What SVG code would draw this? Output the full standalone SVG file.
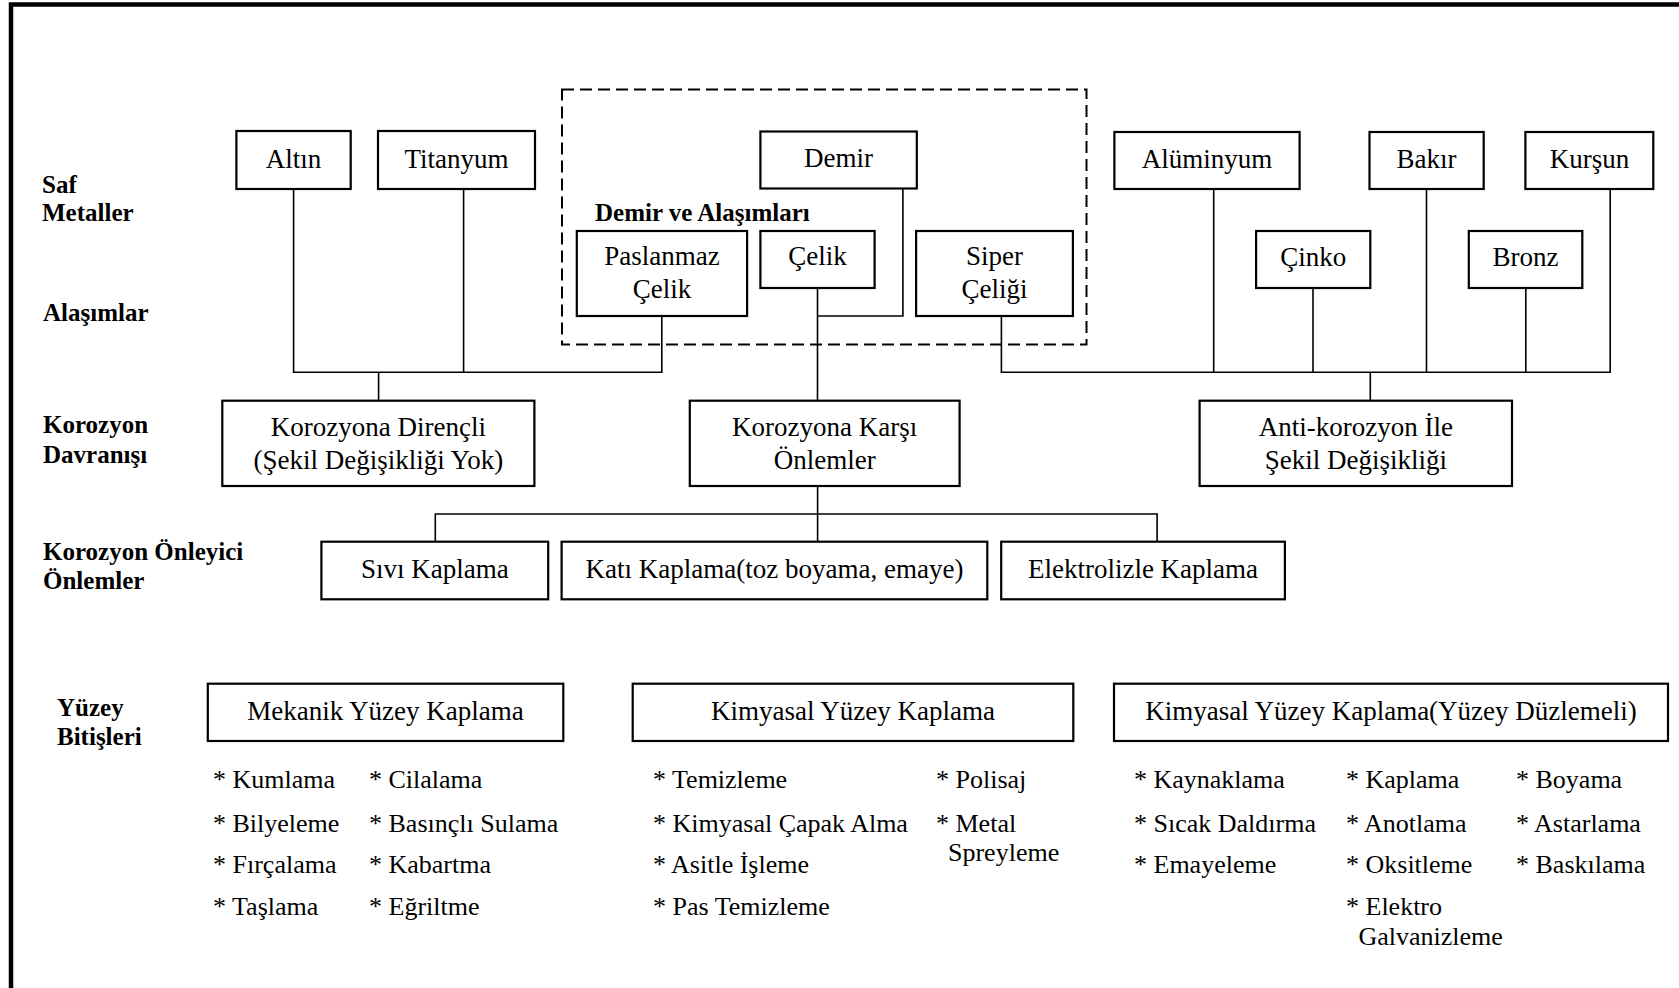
<svg xmlns="http://www.w3.org/2000/svg" width="1679" height="988" viewBox="0 0 1679 988">
<style>
.box{fill:#fff;stroke:#000;stroke-width:2.2}
.t{font-family:"Liberation Serif","Times New Roman",serif;font-size:27px;fill:#000;text-anchor:middle}
.li{font-family:"Liberation Serif","Times New Roman",serif;font-size:26px;fill:#000}
.lb{font-family:"Liberation Serif","Times New Roman",serif;font-size:25px;font-weight:bold;fill:#000}
.c{fill:none;stroke:#000;stroke-width:1.6}
</style>
<rect width="1679" height="988" fill="#fff"/>
<path d="M11,988 V4.5 H1679" fill="none" stroke="#000" stroke-width="4.5"/>
<rect x="562" y="89.5" width="524.5" height="255" fill="none" stroke="#000" stroke-width="2" stroke-dasharray="12,6"/>
<g id="labels">
<text class="lb" x="42" y="193">Saf</text>
<text class="lb" x="42" y="221">Metaller</text>
<text class="lb" x="43" y="321">Alaşımlar</text>
<text class="lb" x="43" y="433">Korozyon</text>
<text class="lb" x="43" y="463">Davranışı</text>
<text class="lb" x="43" y="560">Korozyon Önleyici</text>
<text class="lb" x="43" y="589">Önlemler</text>
<text class="lb" x="57" y="716">Yüzey</text>
<text class="lb" x="57" y="745">Bitişleri</text>
<text class="lb" x="595" y="221">Demir ve Alaşımları</text>
</g>
<g id="connectors">
<path class="c" d="M293.6,189 V372.3 H661.8 V316"/>
<path class="c" d="M463.6,189 V372.3"/>
<path class="c" d="M378.6,372.3 V400.7"/>
<path class="c" d="M902.9,189 V316 H817.5"/>
<path class="c" d="M817.5,288 V400.7"/>
<path class="c" d="M1001.4,316 V372.3 H1610.2 V189"/>
<path class="c" d="M1213.7,189 V372.3"/>
<path class="c" d="M1313,288 V372.3"/>
<path class="c" d="M1426.5,189 V372.3"/>
<path class="c" d="M1525.8,288 V372.3"/>
<path class="c" d="M1370.3,372.3 V400.7"/>
<path class="c" d="M817.6,486 V541.7"/>
<path class="c" d="M435.3,541.7 V514 H1157.1 V541.7"/>
</g>
<g id="altin"><rect class="box" x="236.4" y="131" width="114.3" height="58"/><text class="t" x="293.5" y="168">Altın</text></g>
<g id="titanyum"><rect class="box" x="378" y="131" width="157" height="58"/><text class="t" x="456.5" y="168">Titanyum</text></g>
<g id="demir"><rect class="box" x="760.4" y="131.5" width="156.4" height="57"/><text class="t" x="838.6" y="167">Demir</text></g>
<g id="paslanmaz"><rect class="box" x="576.8" y="231" width="170.3" height="85"/><text class="t" x="662" y="265">Paslanmaz</text><text class="t" x="662" y="298">Çelik</text></g>
<g id="celik"><rect class="box" x="760.4" y="231" width="114.2" height="57"/><text class="t" x="817.5" y="265">Çelik</text></g>
<g id="siper"><rect class="box" x="916.1" y="231" width="156.8" height="85"/><text class="t" x="994.5" y="265">Siper</text><text class="t" x="994.5" y="298">Çeliği</text></g>
<g id="aluminyum"><rect class="box" x="1114.4" y="132" width="185.2" height="57"/><text class="t" x="1207" y="168">Alüminyum</text></g>
<g id="bakir"><rect class="box" x="1369.5" y="132" width="114.2" height="57"/><text class="t" x="1426.6" y="168">Bakır</text></g>
<g id="kursun"><rect class="box" x="1525.4" y="132" width="127.9" height="57"/><text class="t" x="1589.4" y="168">Kurşun</text></g>
<g id="cinko"><rect class="box" x="1256.1" y="231" width="114.2" height="57"/><text class="t" x="1313.2" y="266">Çinko</text></g>
<g id="bronz"><rect class="box" x="1468.8" y="231" width="113.5" height="57"/><text class="t" x="1525.6" y="266">Bronz</text></g>
<g id="dirençli"><rect class="box" x="222.3" y="400.7" width="312.1" height="85.3"/><text class="t" x="378.4" y="436">Korozyona Dirençli</text><text class="t" x="378.4" y="469">(Şekil Değişikliği Yok)</text></g>
<g id="karsi"><rect class="box" x="689.8" y="400.7" width="269.8" height="85.3"/><text class="t" x="824.7" y="436">Korozyona Karşı</text><text class="t" x="824.7" y="468.5">Önlemler</text></g>
<g id="anti"><rect class="box" x="1199.6" y="400.7" width="312.4" height="85.3"/><text class="t" x="1355.8" y="436">Anti-korozyon İle</text><text class="t" x="1355.8" y="468.5">Şekil Değişikliği</text></g>
<g id="sivi"><rect class="box" x="321.4" y="541.7" width="226.8" height="57.6"/><text class="t" x="434.8" y="577.5">Sıvı Kaplama</text></g>
<g id="kati"><rect class="box" x="561.6" y="541.7" width="425.7" height="57.6"/><text class="t" x="774.5" y="577.5">Katı Kaplama(toz boyama, emaye)</text></g>
<g id="elektrolizle"><rect class="box" x="1001.2" y="541.7" width="283.7" height="57.6"/><text class="t" x="1143" y="577.5">Elektrolizle Kaplama</text></g>
<g id="mekanik"><rect class="box" x="207.8" y="683.7" width="355.5" height="57.3"/><text class="t" x="385.5" y="719.5">Mekanik Yüzey Kaplama</text>
<text class="li" x="213" y="788.3">* Kumlama</text><text class="li" x="213" y="831.7">* Bilyeleme</text><text class="li" x="213" y="873.3">* Fırçalama</text><text class="li" x="213" y="915">* Taşlama</text>
<text class="li" x="369" y="788.3">* Cilalama</text><text class="li" x="369" y="831.7">* Basınçlı Sulama</text><text class="li" x="369" y="873.3">* Kabartma</text><text class="li" x="369" y="915">* Eğriltme</text></g>
<g id="kimyasal"><rect class="box" x="632.7" y="683.7" width="440.6" height="57.3"/><text class="t" x="853" y="719.5">Kimyasal Yüzey Kaplama</text>
<text class="li" x="653" y="788.3">* Temizleme</text><text class="li" x="653" y="831.7">* Kimyasal Çapak Alma</text><text class="li" x="653" y="873.3">* Asitle İşleme</text><text class="li" x="653" y="915">* Pas Temizleme</text>
<text class="li" x="936" y="788.3">* Polisaj</text><text class="li" x="936" y="831.7">* Metal</text><text class="li" x="948" y="860.7">Spreyleme</text></g>
<g id="kimyasal-duz"><rect class="box" x="1114" y="683.7" width="554" height="57.3"/><text class="t" x="1391" y="719.5">Kimyasal Yüzey Kaplama(Yüzey Düzlemeli)</text>
<text class="li" x="1134" y="788.3">* Kaynaklama</text><text class="li" x="1134" y="831.7">* Sıcak Daldırma</text><text class="li" x="1134" y="873.3">* Emayeleme</text>
<text class="li" x="1346" y="788.3">* Kaplama</text><text class="li" x="1346" y="831.7">* Anotlama</text><text class="li" x="1346" y="873.3">* Oksitleme</text><text class="li" x="1346" y="915">* Elektro</text><text class="li" x="1358.5" y="945">Galvanizleme</text>
<text class="li" x="1516" y="788.3">* Boyama</text><text class="li" x="1516" y="831.7">* Astarlama</text><text class="li" x="1516" y="873.3">* Baskılama</text></g>
</svg>
